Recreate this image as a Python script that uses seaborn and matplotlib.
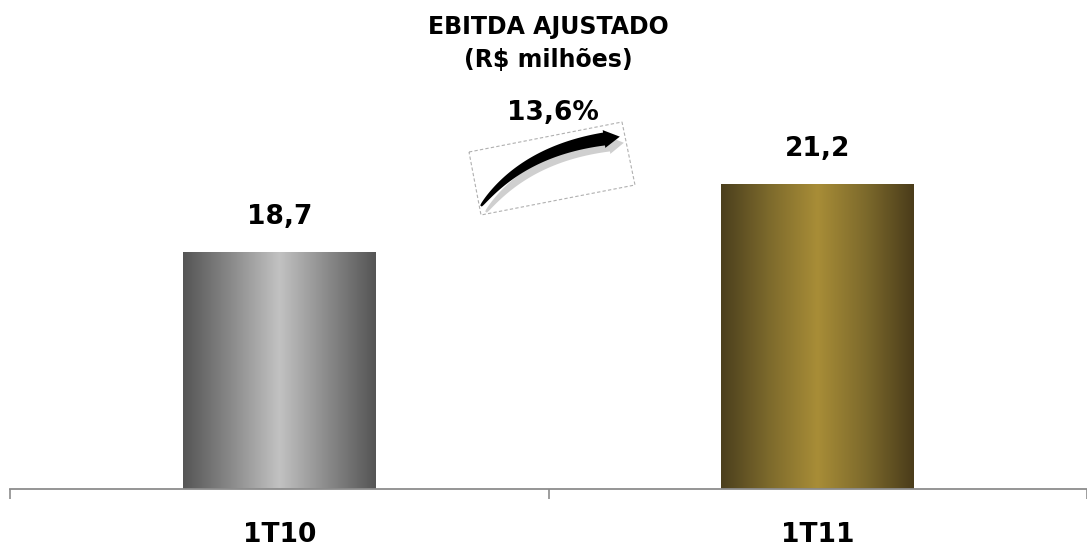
import numpy as np
import matplotlib
matplotlib.use("Agg")
import matplotlib.pyplot as plt
import seaborn as sns
from matplotlib.colors import LinearSegmentedColormap
from matplotlib.patches import Polygon

# ---- data ----
categories = ["1T10", "1T11"]
values = [18.7, 21.2]
value_labels = ["18,7", "21,2"]
growth_label = "13,6%"
title = "EBITDA AJUSTADO"
subtitle = "(R$ milhões)"

sns.set_theme(style="white")
plt.rcParams["font.family"] = ["DejaVu Sans"]
plt.rcParams["text.color"] = "black"

W, H = 1087, 547
fig = plt.figure(figsize=(W / 100, H / 100), dpi=100)
ax = fig.add_axes([10 / W, (H - 489) / H, (W - 10) / W, 489 / H])

sns.barplot(x=categories, y=values, width=0.358, ax=ax, color="gray",
            linewidth=0, saturation=1)

ymin, ymax = 10, 27.95
xmin, xmax = -0.5, -0.5 + (W - 10) / 545

cmaps = [
    LinearSegmentedColormap.from_list("g", ["#555555", "#8a8a8a", "#c2c2c2", "#8a8a8a", "#555555"]),
    LinearSegmentedColormap.from_list("o", ["#4b3f1d", "#7d6a2c", "#a88d37", "#7d6a2c", "#4a3c1a"]),
]
grad = np.linspace(0, 1, 256).reshape(1, -1)
for patch, cmap in zip(ax.patches, cmaps):
    x0 = patch.get_x()
    w = patch.get_width()
    h = patch.get_height()
    im = ax.imshow(grad, cmap=cmap, aspect="auto", extent=(x0, x0 + w, ymin, h),
                   origin="lower", zorder=2)
    im.set_clip_path(patch)
    patch.set_facecolor("none")

for i, (v, lab) in enumerate(zip(values, value_labels)):
    ax.annotate(lab, xy=(i, v), xytext=(0, 25), textcoords="offset points",
                ha="center", va="center", fontsize=19, fontweight="bold", color="black")

ax.set_xlim(xmin, xmax)
ax.set_ylim(ymin, ymax)
ax.set_yticks([])
ax.set_xticks([-0.5, 0.5, 1.5], minor=True)
ax.tick_params(axis="x", which="minor", length=7.5, width=1.2, color="#8c8c8c", direction="out", bottom=True)
ax.tick_params(axis="x", which="major", length=0, pad=24, labelsize=19, labelcolor="black")
for t in ax.get_xticklabels():
    t.set_fontweight("bold")
ax.set_xlabel("")
ax.set_ylabel("")
for s in ["top", "left", "right"]:
    ax.spines[s].set_visible(False)
ax.spines["bottom"].set_color("#8c8c8c")
ax.spines["bottom"].set_linewidth(1.3)

# titles
fig.text(548 / W, 1 - 27 / H, title, ha="center", va="center", fontsize=17,
         fontweight="bold", color="black")
fig.text(548 / W, 1 - 60 / H, subtitle, ha="center", va="center", fontsize=17,
         fontweight="bold", color="black")

# growth arrow decoration (tapered curved arrow, pixel coords -> figure fraction)
def fp(x, y):
    return (x / W, 1 - y / H)

def arrow_shape(p0, c, p2, w0, w1, head_w, head_len):
    p0, c, p2 = map(np.array, (p0, c, p2))
    t = np.linspace(0, 1, 60)[:, None]
    pts = (1 - t) ** 2 * p0 + 2 * (1 - t) * t * c + t ** 2 * p2
    d = 2 * (1 - t) * (c - p0) + 2 * t * (p2 - c)
    d = d / np.linalg.norm(d, axis=1, keepdims=True)
    n = np.stack([-d[:, 1], d[:, 0]], axis=1)
    half = (w0 + (w1 - w0) * t.ravel() ** 0.6)[:, None] / 2
    left = pts + n * half
    right = pts - n * half
    dend = d[-1]
    nend = n[-1]
    tip = p2 + dend * head_len
    hl = p2 + nend * head_w
    hr = p2 - nend * head_w
    poly = np.vstack([left, hl[None], tip[None], hr[None], right[::-1]])
    return [fp(x, y) for x, y in poly]

box = Polygon([fp(469, 152), fp(622, 122), fp(635, 185), fp(481, 215)], closed=True,
              transform=fig.transFigure, fill=False, edgecolor="#b0b0b0",
              linewidth=0.8, linestyle=(0, (3, 2)))
fig.add_artist(box)
shadow = Polygon(arrow_shape((486, 212), (528, 157), (609, 145), 2, 13, 9, 15), closed=True,
                 transform=fig.transFigure, facecolor="#cfcfcf", edgecolor="none")
fig.add_artist(shadow)
arrow = Polygon(arrow_shape((481, 206), (523, 151), (604, 139), 2, 13, 9, 16), closed=True,
                transform=fig.transFigure, facecolor="black", edgecolor="none")
fig.add_artist(arrow)
fig.text(553 / W, 1 - 113 / H, growth_label, ha="center", va="center", fontsize=19,
         fontweight="bold", color="black")

fig.savefig("out.png", dpi=100)
